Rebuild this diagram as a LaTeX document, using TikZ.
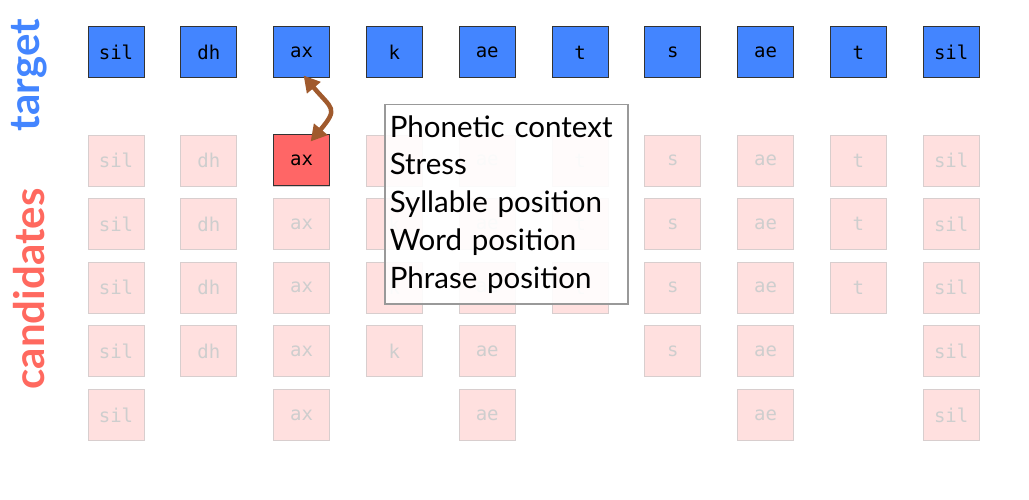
\documentclass[tikz,border=0pt]{standalone}
\usepackage{fontspec}
\usetikzlibrary{arrows.meta}
\newfontfamily\gillfont{Lato}
\newfontfamily\phonefont{DejaVu Sans Mono}
\definecolor{tblue}{RGB}{67,133,255}
\definecolor{cred}{RGB}{255,102,102}
\definecolor{clabel}{RGB}{255,105,95}
\definecolor{cfill}{RGB}{255,224,223}
\definecolor{cdraw}{RGB}{216,206,206}
\definecolor{ctext}{RGB}{206,206,206}
\definecolor{linkbrown}{RGB}{160,90,45}

\begin{document}
\begin{tikzpicture}[
                x=1pt,y=1pt,
                line width=1pt,
                phone/.style={draw=black!80,minimum width=56pt,minimum height=51pt,inner sep=0pt,
                              font=\phonefont\fontsize{19}{19}\selectfont},
                tgt/.style={phone,fill=tblue},
                cand/.style={phone,fill=cfill,draw=cdraw,text=ctext,line width=.8pt},
                pick/.style={phone,fill=cred},
                side/.style={rotate=90,font=\gillfont\bfseries\fontsize{42}{42}\selectfont}] %
\useasboundingbox (0,0) rectangle (1029,-500);

% side labels
\node[side,text=tblue] (TGT) at (29,-75) {target};
\node[side,text=clabel] (CAND) at (29,-289) {candidates};

% column / phone / number of candidates
\foreach \i/\ph/\n in {1/sil/5,2/dh/4,3/ax/5,4/k/4,5/ae/5,6/t/3,7/s/4,8/ae/5,9/t/3,10/sil/5}{
    \node[tgt] (t\i) at ({116+92.8*(\i-1)},-52.5) {\ph};
    \foreach \r in {1,...,\n}
        \node[cand] (c\i-\r) at ({116+92.8*(\i-1)},{-160.5-63.6*(\r-1)}) {\ph};
}

% chosen candidate
\node[pick] (CAX) at (c3-1) {ax};

% features
\node[draw=black!40,line width=1.5pt,fill=white,fill opacity=.9,text opacity=1,
      anchor=north west,minimum height=199pt,text width=233pt,inner xsep=5pt,align=left,
      font=\gillfont\fontsize{29.5}{37.75}\selectfont] (FEAT) at (384,-104)
      {Phonetic context\\Stress\\Syllable position\\Word position\\Phrase position};

% link
\draw[linkbrown,line width=4.5pt,{Triangle[length=16pt,width=17pt]}-{Triangle[length=16pt,width=17pt]}]
  ([xshift=2pt,yshift=3pt]t3.south) to[out=-50,in=50,looseness=1.7] ([xshift=9pt,yshift=-7pt]CAX.north);

\end{tikzpicture}
\end{document}
